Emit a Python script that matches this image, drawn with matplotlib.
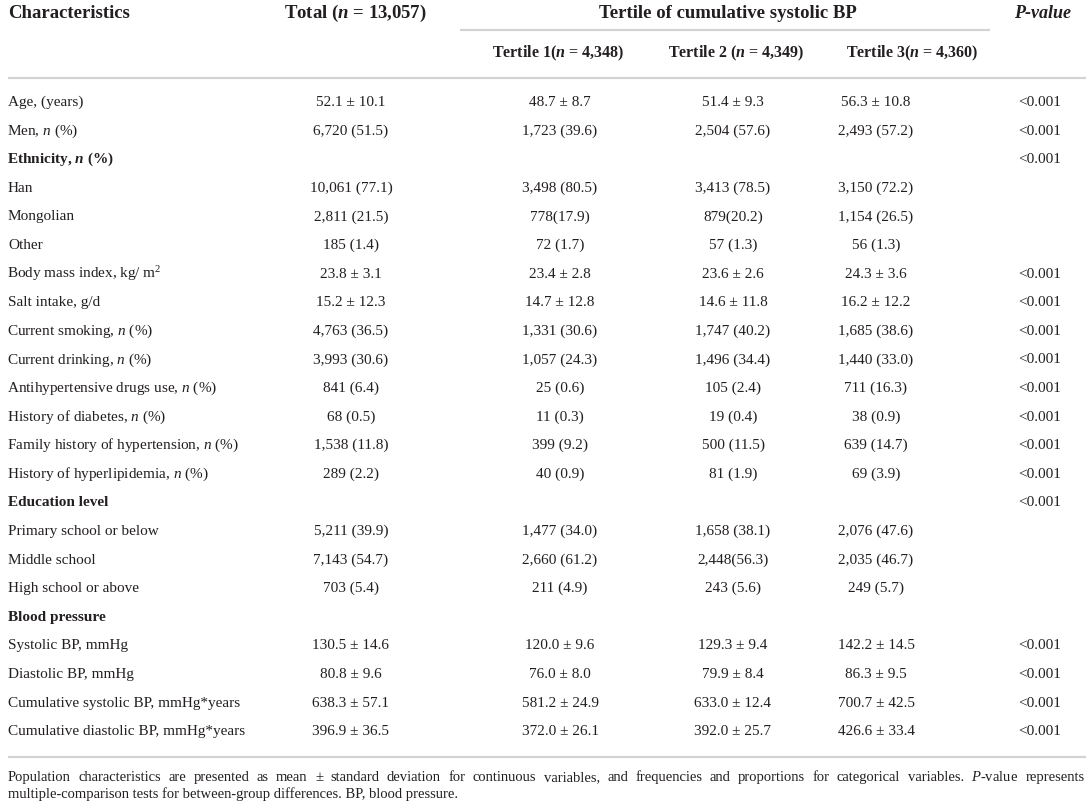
import matplotlib
matplotlib.use('Agg')
import matplotlib.pyplot as plt

plt.rcParams['font.family'] = 'Liberation Serif'
plt.rcParams['mathtext.fontset'] = 'custom'
plt.rcParams['mathtext.rm'] = 'Liberation Serif'
plt.rcParams['mathtext.it'] = 'Liberation Serif:italic'
plt.rcParams['mathtext.bf'] = 'Liberation Serif:bold'
plt.rcParams['mathtext.bfit'] = 'Liberation Serif:italic:bold'

# table content
labels = ['Age, (years)', 'Men, $\\mathit{n}$ (%)', 'Ethnicity, $\\mathbfit{n}$ (%)', 'Han',
          'Mongolian', 'Other', 'Body mass index, kg/ m$^2$', 'Salt intake, g/d',
          'Current smoking, $\\mathit{n}$ (%)', 'Current drinking, $\\mathit{n}$ (%)',
          'Antihypertensive drugs use, $\\mathit{n}$ (%)', 'History of diabetes, $\\mathit{n}$ (%)',
          'Family history of hypertension, $\\mathit{n}$ (%)',
          'History of hyperlipidemia, $\\mathit{n}$ (%)', 'Education level',
          'Primary school or below', 'Middle school', 'High school or above', 'Blood pressure',
          'Systolic BP, mmHg', 'Diastolic BP, mmHg', 'Cumulative systolic BP, mmHg*years',
          'Cumulative diastolic BP, mmHg*years']
bold_rows = [2, 14, 18]
total = ['52.1 ± 10.1', '6,720 (51.5)', '', '10,061 (77.1)', '2,811 (21.5)', '185 (1.4)',
         '23.8 ± 3.1', '15.2 ± 12.3', '4,763 (36.5)', '3,993 (30.6)', '841 (6.4)', '68 (0.5)',
         '1,538 (11.8)', '289 (2.2)', '', '5,211 (39.9)', '7,143 (54.7)', '703 (5.4)', '',
         '130.5 ± 14.6', '80.8 ± 9.6', '638.3 ± 57.1', '396.9 ± 36.5']
tert1 = ['48.7 ± 8.7', '1,723 (39.6)', '', '3,498 (80.5)', '778(17.9)', '72 (1.7)',
         '23.4 ± 2.8', '14.7 ± 12.8', '1,331 (30.6)', '1,057 (24.3)', '25 (0.6)', '11 (0.3)',
         '399 (9.2)', '40 (0.9)', '', '1,477 (34.0)', '2,660 (61.2)', '211 (4.9)', '',
         '120.0 ± 9.6', '76.0 ± 8.0', '581.2 ± 24.9', '372.0 ± 26.1']
tert2 = ['51.4 ± 9.3', '2,504 (57.6)', '', '3,413 (78.5)', '879(20.2)', '57 (1.3)',
         '23.6 ± 2.6', '14.6 ± 11.8', '1,747 (40.2)', '1,496 (34.4)', '105 (2.4)', '19 (0.4)',
         '500 (11.5)', '81 (1.9)', '', '1,658 (38.1)', '2,448(56.3)', '243 (5.6)', '',
         '129.3 ± 9.4', '79.9 ± 8.4', '633.0 ± 12.4', '392.0 ± 25.7']
tert3 = ['56.3 ± 10.8', '2,493 (57.2)', '', '3,150 (72.2)', '1,154 (26.5)', '56 (1.3)',
         '24.3 ± 3.6', '16.2 ± 12.2', '1,685 (38.6)', '1,440 (33.0)', '711 (16.3)', '38 (0.9)',
         '639 (14.7)', '69 (3.9)', '', '2,076 (47.6)', '2,035 (46.7)', '249 (5.7)', '',
         '142.2 ± 14.5', '86.3 ± 9.5', '700.7 ± 42.5', '426.6 ± 33.4']
pvals = ['<0.001', '<0.001', '<0.001', '', '', '', '<0.001', '<0.001', '<0.001', '<0.001',
         '<0.001', '<0.001', '<0.001', '<0.001', '<0.001', '', '', '', '',
         '<0.001', '<0.001', '<0.001', '<0.001']

note1 = ('Population characteristics are presented as mean ± standard deviation for continuous '
         'variables, and frequencies and proportions for categorical variables. $\\mathit{P}$-value represents')
note2 = 'multiple-comparison tests for between-group differences. BP, blood pressure.'

txt = '#231f20'
grey = '#d3d3d3'

fig = plt.figure(figsize=(10.92, 8.06), dpi=100)
ax = fig.add_axes([0, 0, 1, 1])
ax.set_xlim(0, 1092)
ax.set_ylim(806, 0)
ax.axis('off')

# headers
hy = 18
ax.text(8, hy, 'Characteristics', fontsize=13.5, fontweight='bold', color=txt, va='baseline')
ax.text(355, hy, 'Total ($\\mathbfit{n}$ = 13,057)', fontsize=13.5, fontweight='bold',
        color=txt, va='baseline', ha='center')
ax.text(728, hy, 'Tertile of cumulative systolic BP', fontsize=13.5, fontweight='bold',
        color=txt, va='baseline', ha='center')
ax.text(1043, hy, 'P-value', fontsize=13, fontweight='bold', fontstyle='italic',
        color=txt, va='baseline', ha='center')
ax.plot([460, 990], [30, 30], color=grey, lw=1.6, solid_capstyle='butt')
sub = ['Tertile 1($\\mathbfit{n}$ = 4,348)', 'Tertile 2 ($\\mathbfit{n}$ = 4,349)',
       'Tertile 3($\\mathbfit{n}$ = 4,360)']
for x, s in zip([558, 736, 912], sub):
    ax.text(x, 57, s, fontsize=11.5, fontweight='bold', color=txt, va='baseline', ha='center')
ax.plot([8, 1086], [78, 78], color=grey, lw=1.6, solid_capstyle='butt')

# body
y0, dy = 106, 28.6
for i, lab in enumerate(labels):
    y = y0 + i * dy
    lx = 7 if '$' in lab else 8
    ax.text(lx, y, lab, fontsize=11, color=txt, va='baseline',
            fontweight='bold' if i in bold_rows else 'normal')
    for x, col in zip([351, 560, 733, 876, 1040], [total, tert1, tert2, tert3, pvals]):
        if col[i]:
            ax.text(x, y, col[i], fontsize=11, color=txt, va='baseline', ha='center')

ax.plot([8, 1086], [757, 757], color=grey, lw=1.6, solid_capstyle='butt')

# footnote, first line justified
fig.canvas.draw()
r = fig.canvas.get_renderer()
words = note1.split(' ')
tws = []
for w in words:
    t = ax.text(0, 0, w, fontsize=10.5, color=txt, va='baseline')
    tws.append((t, t.get_window_extent(r).width))
gap = (1085 - 8 - sum(w for _, w in tws)) / (len(words) - 1)
x = 8
for t, w in tws:
    t.set_position((x, 781))
    x += w + gap
ax.text(8, 798, note2, fontsize=10.5, color=txt, va='baseline')

fig.savefig('out.png', dpi=100)
